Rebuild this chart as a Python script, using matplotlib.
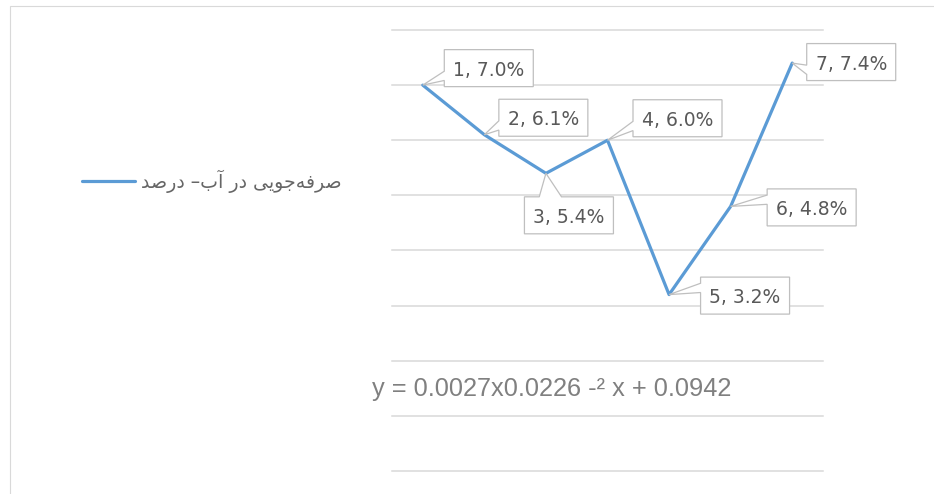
import matplotlib
matplotlib.use("Agg")
import matplotlib.pyplot as plt
from matplotlib.patches import Polygon, Rectangle
from matplotlib.transforms import IdentityTransform
from matplotlib.ticker import MultipleLocator

# data
periods = [1, 2, 3, 4, 5, 6, 7]
saving = [0.070, 0.061, 0.054, 0.060, 0.032, 0.048, 0.074]
series_name = "صرفه‌جویی در آب– درصد"
trend_text = "y = 0.0027x0.0226 -² x + 0.0942"

# label box centre offset from its point, in pixels (x right, y up)
label_offsets = [(66, 17), (59, 17), (23, -42), (70, 22), (76, -1), (81, -1), (59, 1)]

LINE = "#5b9bd5"
GRID = "#d9d9d9"
TXT = "#595959"

# matplotlib has no arabic shaping, so pick the presentation forms by hand
FORMS = {
    "\u0635": ("\uFEB9", "\uFEBA", "\uFEBB", "\uFEBC"),  # ص
    "\u0631": ("\uFEAD", "\uFEAE", None, None),          # ر
    "\u0641": ("\uFED1", "\uFED2", "\uFED3", "\uFED4"),  # ف
    "\u0647": ("\uFEE9", "\uFEEA", "\uFEEB", "\uFEEC"),  # ه
    "\u062C": ("\uFE9D", "\uFE9E", "\uFE9F", "\uFEA0"),  # ج
    "\u0648": ("\uFEED", "\uFEEE", None, None),          # و
    "\u06CC": ("\uFBFC", "\uFBFD", "\uFBFE", "\uFBFF"),  # ی
    "\u062F": ("\uFEA9", "\uFEAA", None, None),          # د
    "\u0622": ("\uFE81", "\uFE82", None, None),          # آ
    "\u0628": ("\uFE8F", "\uFE90", "\uFE91", "\uFE92"),  # ب
}


def shape_rtl(s):
    out = []
    for i, ch in enumerate(s):
        if ch == "\u200c":
            continue
        if ch not in FORMS:
            out.append(ch)
            continue
        iso, fin, ini, med = FORMS[ch]
        prev = s[i - 1] if i > 0 else ""
        nxt = s[i + 1] if i + 1 < len(s) else ""
        jp = prev in FORMS and FORMS[prev][2] is not None
        jn = nxt in FORMS and ini is not None
        if jp and jn:
            out.append(med)
        elif jp:
            out.append(fin)
        elif jn:
            out.append(ini)
        else:
            out.append(iso)
    return "".join(out)[::-1]


def callout(px, py, cx, cy, w, h):
    # rectangle with a wedge pointing at (px, py), office style
    l, r, b, t = cx - w / 2, cx + w / 2, cy - h / 2, cy + h / 2
    dx, dy = (px - cx) / w, (py - cy) / h
    if abs(dx) >= abs(dy):
        f = (2 / 12, 5 / 12) if py > cy else (7 / 12, 10 / 12)
        y1, y2 = t - f[0] * h, t - f[1] * h
        if dx < 0:
            return [(l, t), (r, t), (r, b), (l, b), (l, y2), (px, py), (l, y1)]
        return [(l, t), (r, t), (r, y1), (px, py), (r, y2), (r, b), (l, b)]
    f = (2 / 12, 5 / 12) if px < cx else (7 / 12, 10 / 12)
    x1, x2 = l + f[0] * w, l + f[1] * w
    if dy > 0:
        return [(l, t), (x1, t), (px, py), (x2, t), (r, t), (r, b), (l, b)]
    return [(l, t), (r, t), (r, b), (x2, b), (px, py), (x1, b), (l, b)]


fig = plt.figure(figsize=(9.34, 4.94), dpi=100)
ax = fig.add_axes([392 / 934, 23 / 494, 431 / 934, 441 / 494])

line, = ax.plot(periods, saving, color=LINE, lw=2.3, solid_joinstyle="round",
                solid_capstyle="round", label=shape_rtl(series_name), zorder=3)

ax.set_xlim(0.5, 7.5)
ax.set_ylim(0, 0.08)
ax.yaxis.set_major_locator(MultipleLocator(0.01))
ax.grid(axis="y", color=GRID, lw=1.1)
ax.set_axisbelow(True)
for gl in ax.get_ygridlines():
    gl.set_clip_on(False)
ax.tick_params(left=False, bottom=False, labelleft=False, labelbottom=False)
for sp in ax.spines.values():
    sp.set_visible(False)

# legend sits left of the plot
ax.legend(handles=[line], loc="center left", bbox_to_anchor=(82 / 934, 313 / 494),
          bbox_transform=fig.transFigure, frameon=False, borderpad=0, borderaxespad=0,
          handlelength=2.8, handletextpad=0.3,
          prop={"family": "DejaVu Sans", "size": 13.6}, labelcolor="#666666")

# data labels in callout boxes
box_w, box_h = 89, 37
for x, v, (ox, oy) in zip(periods, saving, label_offsets):
    px, py = ax.transData.transform((x, v))
    cx, cy = px + ox, py + oy
    fig.add_artist(Polygon(callout(px, py, cx, cy, box_w, box_h), closed=True,
                           transform=IdentityTransform(), facecolor="white",
                           edgecolor="#bfbfbf", lw=0.9, zorder=4))
    fig.text(cx, cy, f"{x}, {v * 100:.1f}%", transform=IdentityTransform(),
             ha="center", va="center_baseline", fontsize=13.5, color=TXT,
             family="DejaVu Sans", zorder=5)

# trendline equation
fig.text(372, 98, trend_text, transform=IdentityTransform(), ha="left",
         va="baseline", fontsize=18.3, color="#808080", family="Liberation Sans")

# chart area border
fig.add_artist(Rectangle((9.5, -20), 1000, 488.5 + 20, transform=IdentityTransform(),
                         fill=False, edgecolor=GRID, lw=0.8))

fig.savefig("out.png", dpi=100)
